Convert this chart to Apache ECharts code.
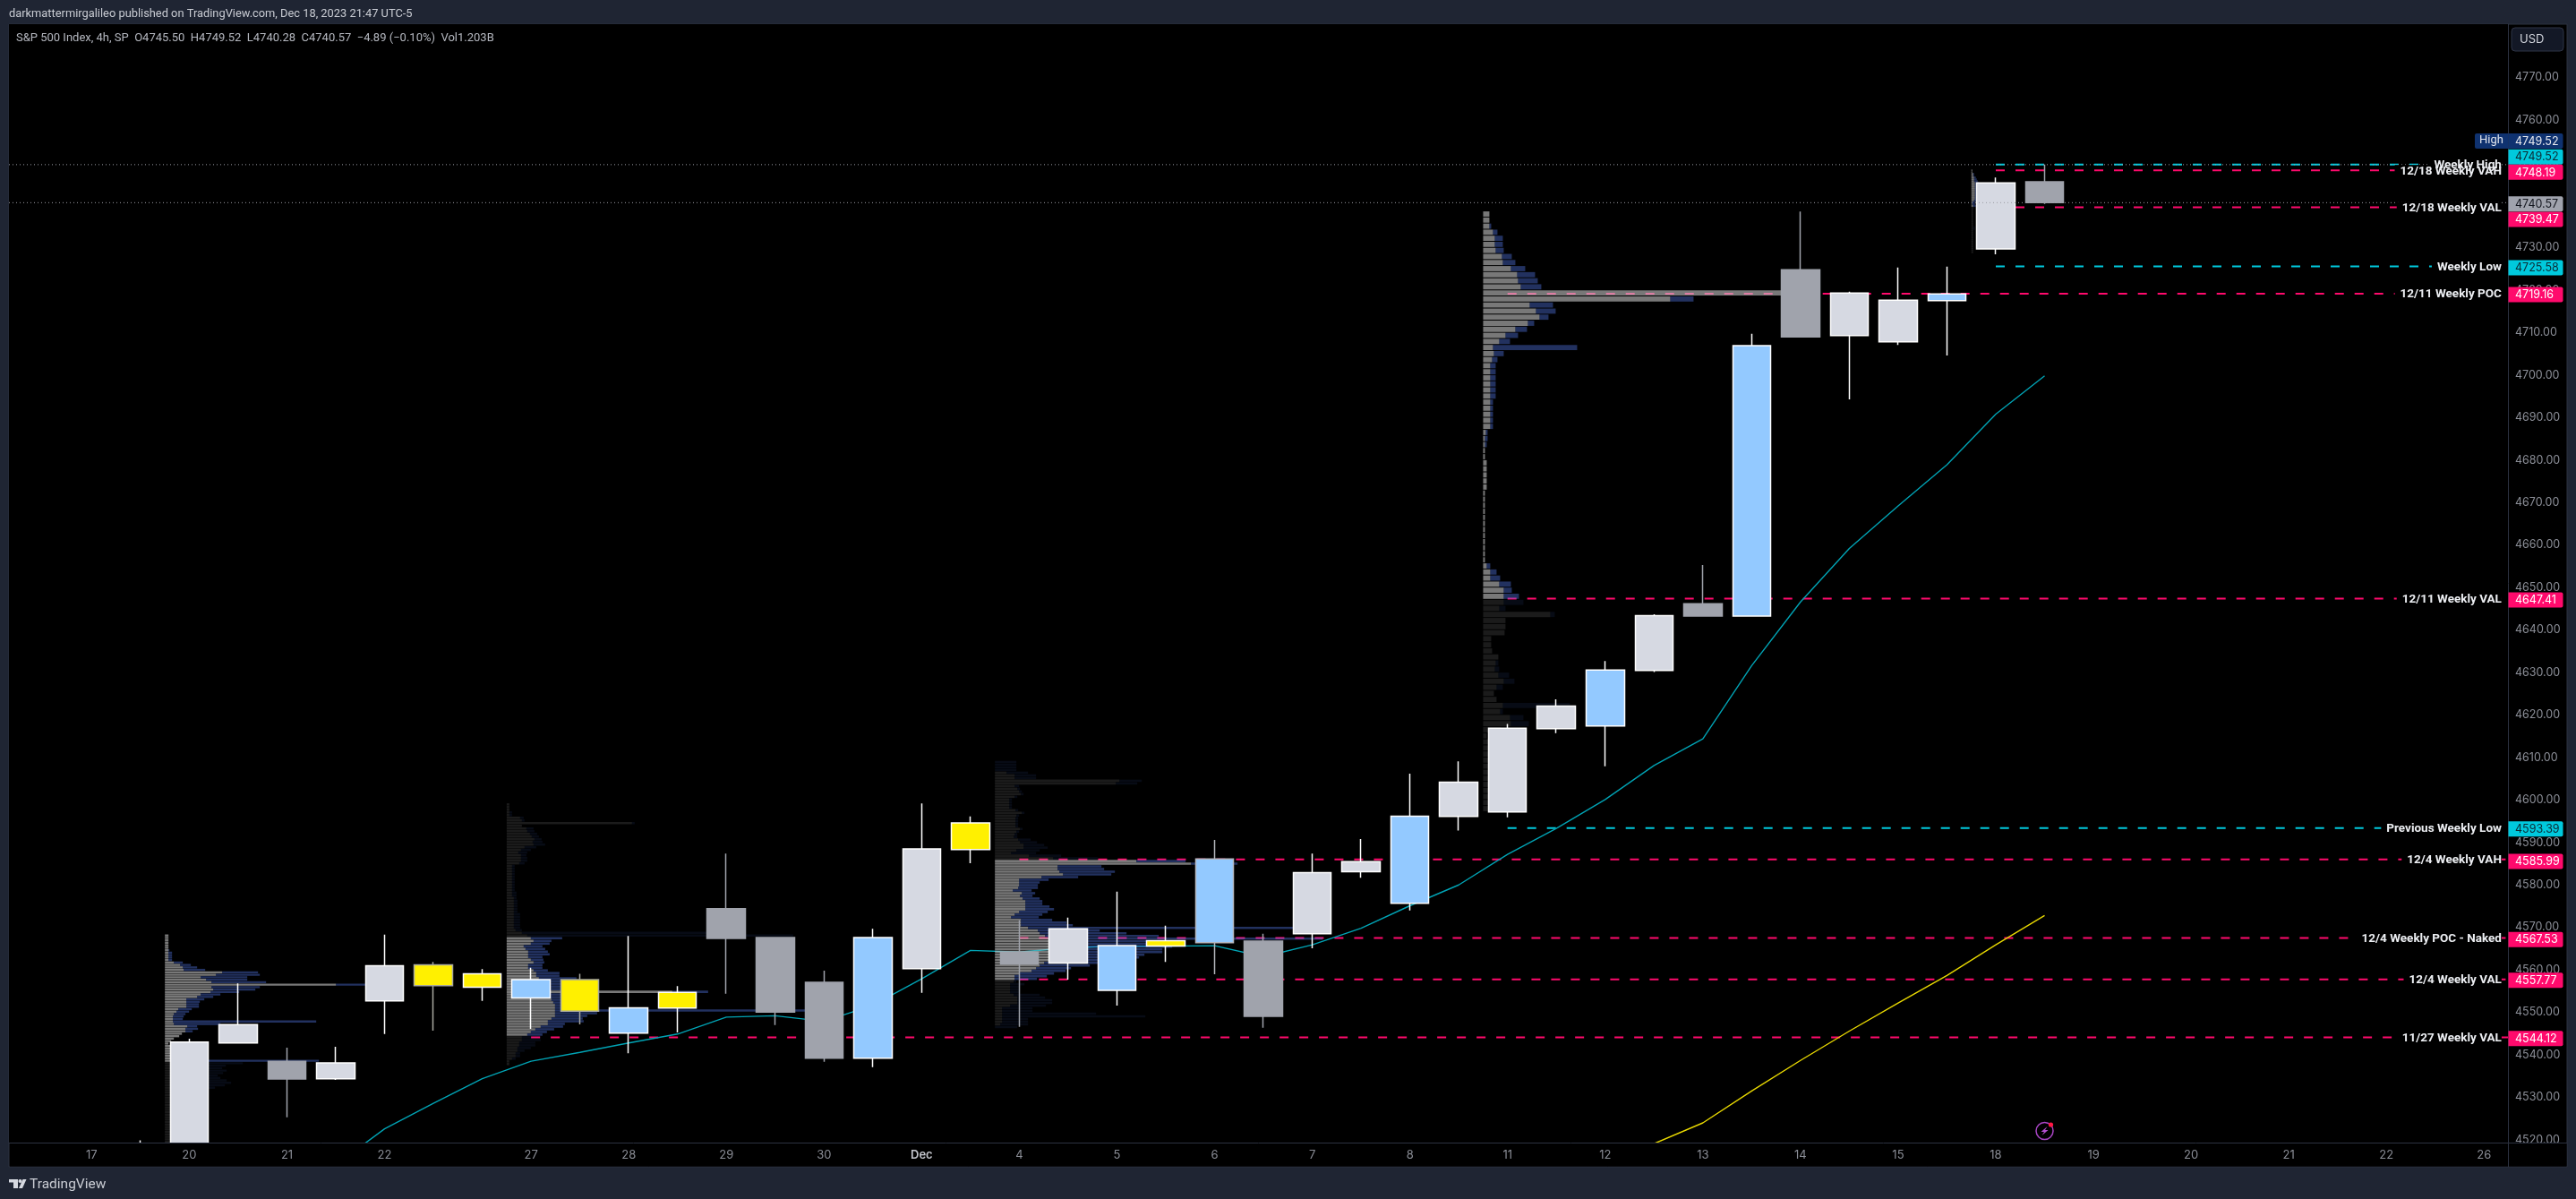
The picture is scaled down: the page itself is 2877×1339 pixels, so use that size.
<!DOCTYPE html>
<html>
<head>
<meta charset="utf-8">
<title>S&amp;P 500 Index, 4h</title>
<script src="https://cdn.jsdelivr.net/npm/echarts@6/dist/echarts.min.js"></script>
<style>
  html, body { margin: 0; padding: 0; background: #1f2533; }
  #chart { width: 2877px; height: 1339px; }
</style>
</head>
<body>
<div id="chart"></div>
<script>
// one entry per 4h bar, 17 Nov to 18 Dec
const opens = [4516,4516,4515,4542.8,4538.5,4534.4,4552.7,4556.3,4555.9,4553.4,4550.3,4545.1,4551,4574.4,4567.6,4557.1,4539.2,4560.3,4588.3,4564.2,4561.6,4555.2,4565.6,4566.4,4566.8,4568.5,4583.1,4575.7,4596.1,4597.2,4616.8,4617.4,4630.5,4646.2,4643.3,4724.8,4709.3,4707.8,4717.5,4729.7,4745.5];
const closes = [4512,4517,4543,4547.1,4534.3,4538.1,4561,4561.2,4559.1,4557.7,4557.7,4551.1,4554.7,4567.4,4550.1,4539.2,4567.6,4588.5,4594.6,4561.4,4569.7,4565.7,4566.9,4586.1,4549.1,4582.9,4585.5,4596.2,4604.2,4616.9,4622.1,4630.6,4643.4,4643.3,4706.9,4709,4719.3,4717.6,4719.1,4745.2,4740.57];
const lows = [4510,4515,4514,4542.8,4525.3,4534.1,4544.9,4545.7,4552.7,4546.1,4547.2,4540.4,4545.3,4554.4,4547,4538.4,4537.1,4554.6,4585.1,4546.6,4557.7,4551.6,4561.9,4559,4546.4,4565.1,4581.7,4574,4592.8,4595.9,4615.7,4607.9,4630.1,4643.1,4643.1,4709,4694.3,4707.1,4704.6,4728.4,4740.28];
const highs = [4518,4519.9,4543.8,4556.8,4541.7,4541.9,4568.3,4561.9,4560.2,4560.5,4559.1,4568,4556.2,4587.4,4567.8,4559.8,4569.7,4599.2,4596.1,4571.7,4572.3,4578.4,4570.4,4590.6,4568.5,4587.4,4590.8,4606.2,4609.1,4617.9,4623.7,4632.7,4643.7,4655.3,4709.7,4738.5,4719.6,4725.3,4725.5,4746.5,4749.52];
const barKinds = ['grey','white','white','white','grey','white','white','yellowG','yellow','blue','yellowG','blue','yellow','grey','grey','grey','blue','white','yellow','grey','white','blue','yellow','blueG','grey','white','white','blue','white','white','white','blue','white','grey','blue','grey','white','white','blue','white','grey'];

// moving averages, first value belongs to the bar in *Start
const emaStart = 5;
const emaValues = [4514.1,4522.6,4528.6,4534.4,4538.5,4540.6,4542.8,4544.9,4548.9,4549.2,4547.9,4551.7,4557.9,4564.6,4564.2,4565.2,4565.6,4565.6,4565.7,4563.1,4565.9,4569.8,4575.1,4580,4587.2,4593.3,4600.1,4608.1,4614.4,4631.6,4646.6,4659.2,4669.2,4678.9,4690.8,4699.8];
const smaStart = 32;
const smaValues = [4519.1,4524,4531.5,4538.7,4545.6,4552.2,4558.7,4565.9,4572.8];

// axis labels
const priceTicks = [4520,4530,4540,4550,4560,4570,4580,4590,4600,4610,4620,4630,4640,4650,4660,4670,4680,4690,4700,4710,4720,4730,4740,4750,4760,4770];
const dayLabels = ['17','20','21','22','27','28','29','30','Dec','4','5','6','7','8','11','12','13','14','15','18','19','20','21','22','26'];
const dayBars = [0,2,4,6,9,11,13,15,17,19,21,23,25,27,29,31,33,35,37,39,41,43,45,47,49];

// horizontal levels
const levelNames = ['Weekly High','12/18 Weekly VAH','12/18 Weekly VAL','Weekly Low','12/11 Weekly POC','12/11 Weekly VAL','Previous Weekly Low','12/4 Weekly VAH','12/4 Weekly POC - Naked','12/4 Weekly VAL','11/27 Weekly VAL'];
const levelPrices = [4749.52,4748.19,4739.47,4725.58,4719.16,4647.41,4593.39,4585.99,4567.53,4557.77,4544.12];
const levelBars = [39,39,39,39,29,29,29,19,19,19,9];
const levelKinds = ['cyan','pink','pink','cyan','pink','pink','cyan','pink','pink','pink','pink'];
// where the price tag sits on the axis, the close ones get pushed apart
const levelTagPrices = [4751.5,4747.9,4736.8,4725.4,4719.1,4647.2,4593.3,4585.7,4567.3,4557.7,4544];
const highPrice = 4749.52;
const highTagPrice = 4755.2;
const lastPrice = 4740.57;
const lastTagPrice = 4740.4;

// session volume profiles, one pair of lists each (up / down volume per row, top row first)
const profile1Up = [4,4,4,4,4,4,4,4,4,4,4,10,17,20,21,64,57,40,46,52,191,52,54,51,40,36,24,24,24,24,15,13,10,9,9,9,10,25,23,23,19,16,10,7,4,7,7,7,7,7,7,20,20,20,20,20,20,20,20,20,20,20,20,7,7,7,7,7,7,7,7,7,7,7,7,7,7,7,7,7,7,7,7,7,7];
const profile1Down = [0,0,0,0,0,0,1,4,4,4,4,10,12,16,24,40,49,52,46,61,40,54,47,32,22,18,20,15,14,14,15,14,13,12,11,160,52,11,14,8,0,0,0,0,0,0,0,0,0,0,0,152,67,48,44,49,45,39,42,49,54,47,36,0,0,0,0,0,0,0,0,0,0,0,0,0,0,0,0,0,0,0,0,0,0];
const profile2Up = [3,3,3,3,3,15,17,140,17,22,23,26,28,31,29,30,20,16,13,16,16,16,14,6,6,6,6,6,6,6,6,6,6,6,6,8,8,8,8,8,8,8,8,8,8,8,8,10,17,23,27,30,27,19,21,24,24,24,27,30,24,24,30,33,33,36,40,42,44,45,185,45,48,50,52,54,54,54,54,54,50,46,46,38,32,27,23,17,17,14,14,12,12,10,10,6,3,3];
const profile2Down = [0,0,0,3,3,4,3,3,0,8,8,8,8,8,11,13,13,11,10,6,7,7,6,3,3,3,3,3,3,3,3,3,3,5,5,3,4,4,4,4,4,7,7,7,7,7,7,7,207,297,35,20,21,21,22,22,24,16,14,12,16,16,16,26,26,42,30,25,30,28,40,25,30,28,30,28,30,300,47,36,35,40,19,25,21,18,17,21,21,18,18,15,8,5,5,4,0,0];
const profile3Up = [0,0,0,0,13,22,22,139,135,22,25,27,29,22,16,16,16,16,23,30,24,23,23,23,23,28,24,22,21,26,28,32,32,24,18,38,65,158,219,70,70,72,76,52,27,27,27,26,20,30,28,31,34,34,34,34,27,22,18,29,29,29,37,48,50,56,61,61,61,60,60,60,60,60,60,55,50,46,41,27,22,22,21,17,17,17,17,21,25,25,25,17,8,8,8,8,8,8,6,0];
const profile3Down = [24,24,24,24,24,24,24,25,24,5,3,3,3,3,3,3,3,3,3,3,3,3,3,3,3,3,3,3,4,14,19,23,27,26,28,36,50,55,52,49,52,62,54,41,33,23,21,22,21,15,14,19,19,19,27,32,32,31,31,35,51,58,296,69,97,127,305,136,135,138,127,127,107,101,85,70,56,39,38,39,36,25,3,16,10,10,10,29,31,39,39,40,34,34,105,160,29,29,31,25];
const profile4Up = [7,7,7,11,13,13,14,21,22,31,38,39,42,345,209,52,59,63,50,36,25,18,11,12,10,8,8,8,8,8,8,8,8,8,8,8,3,2,2,2,2,4,4,4,4,4,2,2,2,2,2,2,2,2,2,2,2,2,4,8,8,18,23,23,23,18,75,25,25,24,9,9,10,17,14,13,17,23,15,12,15,22,19,30,31,20,4,6,6,6,6,6,6,6,6,6,6,6,6];
const profile4Down = [0,0,2,5,9,9,9,11,14,16,20,22,23,15,26,26,22,10,7,13,14,12,94,11,6,6,6,6,6,6,6,3,3,3,3,3,2,3,2,0,0,0,0,0,0,0,0,0,0,0,0,0,0,0,0,0,0,0,4,7,11,13,9,17,22,7,5,0,0,0,0,0,0,0,3,5,12,12,7,0,0,75,3,15,20,0,0,0,0,0,0,0,0,0,0,0,0,0,0];
const profile5Up = [1,1,2,2,3,3,3,4,4,4,4,4,4,4,4,4,4,3,1,1,2,2,2,2,2,2,2,2,2,2,2,2,2,2,2,2,2,2,2,2,2,2,2,2,2,2,2];
const profile5Down = [0,0,1,1,2,3,4,4,4,4,5,5,5,4,3,3,3,3,3,3,3,1,0,0,0,0,0,0,0,0,0,0,2,2,0,0,0,0,0,0,0,0,0,0,0,0,0];

const chartTitle = 'S&P 500 Index, 4h, SP  O4745.50  H4749.52  L4740.28  C4740.57  \u22124.89 (\u22120.10%)  Vol1.203B';
const publishedLine = 'darkmattermirgalileo published on TradingView.com, Dec 18, 2023 21:47 UTC-5';

const FONT = 'Roboto, Inter, sans-serif';
const PRICE_FONT = 'Inter, Roboto, sans-serif';
const PLOT_BLACK = '#000000';
const BORDER = '#2c3241';
const BAR_PX = 54.53;
const X_MIN = -1.694, X_MAX = 49.49;
const Y_MIN = 4519.36, Y_MAX = 4782.58;

const kindStyle = {
  white: { body: '#d6d9e2', edge: '#ffffff' },
  grey: { body: '#a0a3ac', edge: '#a0a3ac' },
  blue: { body: '#93c9ff', edge: '#ffffff' },
  blueG: { body: '#93c9ff', edge: '#b4b6bd' },
  yellow: { body: '#fff000', edge: '#ffffff' },
  yellowG: { body: '#fff000', edge: '#a8a8a0' }
};
const levelColors = { cyan: '#00c9dd', pink: '#ff0a6c' };

const candleData = opens.map((o, i) => {
  const s = kindStyle[barKinds[i]];
  return {
    value: [i, o, closes[i], lows[i], highs[i]],
    itemStyle: { color: s.body, color0: s.body, borderColor: s.edge, borderColor0: s.edge, borderColorDoji: s.edge }
  };
});

function profileSeries(upList, downList, startBar, topPrice, rowStep, vah, val) {
  const rows = upList.map((up, k) => {
    const price = topPrice - k * rowStep;
    return [startBar, price, up, downList[k], price <= vah && price >= val ? 1 : 0];
  });
  const half = rowStep * 0.43;
  return {
    type: 'custom',
    silent: true,
    clip: true,
    z: 4,
    data: rows,
    encode: { x: 0, y: 1 },
    renderItem(params, api) {
      const x0 = api.value(0), price = api.value(1);
      const up = api.value(2), down = api.value(3), bright = api.value(4);
      const a = api.coord([x0, price + half]);
      const b = api.coord([x0 + up / BAR_PX, price - half]);
      const c = api.coord([x0 + (up + down) / BAR_PX, price - half]);
      const h = Math.max(b[1] - a[1], 1);
      return {
        type: 'group',
        children: [
          { type: 'rect', shape: { x: a[0], y: a[1], width: b[0] - a[0], height: h },
            style: { fill: bright ? 'rgba(200,200,200,0.6)' : 'rgba(200,200,200,0.135)' } },
          { type: 'rect', shape: { x: b[0], y: a[1], width: c[0] - b[0], height: h },
            style: { fill: bright ? 'rgba(85,122,238,0.4)' : 'rgba(85,122,238,0.085)' } }
        ]
      };
    }
  };
}

function lineOverlay(start, values, color) {
  return {
    type: 'line',
    silent: true,
    z: 3,
    symbol: 'none',
    data: values.map((v, i) => [start + i, v]),
    lineStyle: { color: color, width: 1.4 }
  };
}

const levelSeries = levelPrices.map((p, i) => ({
  type: 'line',
  silent: true,
  z: 2,
  symbol: 'none',
  data: [[levelBars[i], p], [X_MAX, p]],
  lineStyle: { color: levelColors[levelKinds[i]], width: 2, type: [10, 12] }
}));

const dottedSeries = [highPrice, lastPrice].map(p => ({
  type: 'line',
  silent: true,
  z: 6,
  symbol: 'none',
  data: [[X_MIN, p], [X_MAX, p]],
  lineStyle: { color: '#9a9ca3', width: 1, type: [1, 3] }
}));

// black plate behind the level text so the dashes stop short of it
function levelTextSeries(plate) {
  return {
    type: 'custom',
    silent: true,
    z: plate ? 7 : 8,
    data: levelPrices.map((p, i) => [i, p]),
    encode: { y: 1 },
    renderItem(params, api) {
      const pos = api.coord([49.36, api.value(1)]);
      const name = levelNames[api.value(0)];
      return {
        type: 'text',
        style: Object.assign({
          x: pos[0], y: pos[1] + 1, text: name, align: 'right', verticalAlign: 'middle',
          font: '700 13.5px ' + FONT
        }, plate
          ? { fill: PLOT_BLACK, backgroundColor: PLOT_BLACK, padding: [0, 0, 0, 6] }
          : { fill: '#eceef2' })
      };
    }
  };
}

function tag(y, text, fill, textFill) {
  const x0 = 2801.5, w = 61, h = 17;
  return {
    type: 'group',
    children: [
      { type: 'rect', shape: { x: x0, y: y - h / 2 + 0.7, width: w, height: h, r: [0, 2, 2, 0] }, style: { fill: fill } },
      { type: 'text', style: { x: 2809, y: y + 1.2, text: text, fill: textFill, font: '12.5px ' + PRICE_FONT, verticalAlign: 'middle' } }
    ]
  };
}

const tagSeries = {
  type: 'custom',
  silent: true,
  z: 9,
  data: levelTagPrices.map((p, i) => [i, p]),
  encode: { y: 1 },
  renderItem(params, api) {
    const y = api.coord([0, api.value(1)])[1];
    const i = api.value(0);
    const cyan = levelKinds[i] === 'cyan';
    return tag(y, levelPrices[i].toFixed(2), levelColors[levelKinds[i]], cyan ? '#0c2a33' : '#ffffff');
  }
};

const extraTagSeries = {
  type: 'custom',
  silent: true,
  z: 9,
  data: [[0, highTagPrice], [1, lastTagPrice]],
  encode: { y: 1 },
  renderItem(params, api) {
    const y = api.coord([0, api.value(1)])[1];
    if (api.value(0) === 1) return tag(y, lastPrice.toFixed(2), '#a0a3ad', '#14171f');
    const g = tag(y, highPrice.toFixed(2), '#0f3270', '#e6e8ee');
    g.children.push(
      { type: 'rect', shape: { x: 2764, y: y - 7.8, width: 37.5, height: 17, r: [2, 0, 0, 2] }, style: { fill: '#0f3270' } },
      { type: 'text', style: { x: 2769, y: y + 0.2, text: 'High', fill: '#dfe3ec', font: '13px ' + FONT, verticalAlign: 'middle' } }
    );
    return g;
  }
};

// little purple lightning badge under the last bar
const iconSeries = {
  type: 'custom',
  silent: true,
  z: 9,
  data: [[40, 4522.1]],
  renderItem(params, api) {
    const p = api.coord([api.value(0), api.value(1)]);
    const cx = p[0], cy = p[1];
    return {
      type: 'group',
      children: [
        { type: 'circle', shape: { cx: cx, cy: cy, r: 9.5 }, style: { fill: 'none', stroke: '#a845c4', lineWidth: 1.5 } },
        { type: 'polygon', shape: { points: [[cx + 3, cy - 5], [cx - 4, cy + 1], [cx - 0.5, cy + 1], [cx - 3, cy + 5], [cx + 4, cy - 1], [cx + 0.5, cy - 1]] }, style: { fill: '#b44fd0' } },
        { type: 'circle', shape: { cx: cx + 7, cy: cy - 7, r: 2.6 }, style: { fill: '#ff1744' } }
      ]
    };
  }
};

const chart = echarts.init(document.getElementById('chart'), null, { renderer: 'canvas' });

chart.setOption({
  animation: false,
  backgroundColor: '#1f2533',
  textStyle: { fontFamily: FONT },
  grid: { left: 10, right: 76, top: 27, bottom: 63, show: true, backgroundColor: PLOT_BLACK, borderWidth: 0 },
  xAxis: {
    type: 'value',
    min: X_MIN,
    max: X_MAX,
    z: 10,
    splitLine: { show: false },
    axisTick: { show: false },
    axisLine: { show: true, onZero: false, lineStyle: { color: BORDER, width: 1 } },
    axisLabel: {
      customValues: dayBars,
      color: '#8b8e97',
      fontSize: 13,
      fontFamily: PRICE_FONT,
      margin: 8,
      formatter: v => {
        const label = dayLabels[dayBars.indexOf(v)];
        return label === 'Dec' ? '{month|Dec}' : label;
      },
      rich: { month: { color: '#c4c6cd', fontSize: 13, fontWeight: 600, fontFamily: PRICE_FONT } }
    }
  },
  yAxis: {
    type: 'value',
    position: 'right',
    min: Y_MIN,
    max: Y_MAX,
    splitLine: { show: false },
    axisTick: { show: false },
    axisLine: { show: true, onZero: false, lineStyle: { color: BORDER, width: 1 } },
    axisLabel: {
      customValues: priceTicks,
      color: '#8b8e97',
      fontSize: 12.5,
      fontFamily: PRICE_FONT,
      margin: 8,
      padding: [2, 0, 0, 0],
      formatter: v => v.toFixed(2)
    }
  },
  graphic: [
    { type: 'rect', z: -1, shape: { x: 10, y: 27, width: 2857, height: 1276 }, style: { fill: PLOT_BLACK, stroke: BORDER, lineWidth: 1 } },
    // time scale strip, candles that run below the price range end behind it
    { type: 'rect', z: 8, shape: { x: 11, y: 1276.5, width: 2790, height: 26 }, style: { fill: PLOT_BLACK } },
    { type: 'rect', z: 100, shape: { x: 2802, y: 1276.5, width: 64.5, height: 26 }, style: { fill: PLOT_BLACK } },
    { type: 'line', z: 100, shape: { x1: 2801.5, y1: 1276, x2: 2801.5, y2: 1303 }, style: { stroke: BORDER, lineWidth: 1 } },
    { type: 'line', z: 100, shape: { x1: 2801, y1: 1276.5, x2: 2867, y2: 1276.5 }, style: { stroke: BORDER, lineWidth: 1 } },
    { type: 'text', z: 100, style: { x: 10, y: 16, text: publishedLine, fill: '#c9ccd3', font: '12.85px ' + FONT, verticalAlign: 'middle' } },
    { type: 'text', z: 100, style: { x: 18, y: 43, text: chartTitle, fill: '#b4b7bf', font: '13px ' + FONT, verticalAlign: 'middle' } },
    { type: 'rect', z: 100, shape: { x: 2805, y: 31, width: 58, height: 26, r: 4 }, style: { fill: '#131826', stroke: '#2f3546', lineWidth: 1 } },
    { type: 'text', z: 101, style: { x: 2814, y: 44, text: 'USD', fill: '#d1d4dc', font: '13px ' + PRICE_FONT, verticalAlign: 'middle' } },
    // TradingView mark
    { type: 'polygon', z: 100, shape: { points: [[10, 1317], [20, 1317], [20, 1327], [15, 1327], [15, 1320.5], [10, 1320.5]] }, style: { fill: '#d6d9e0' } },
    { type: 'circle', z: 100, shape: { cx: 22.5, cy: 1319, r: 2 }, style: { fill: '#d6d9e0' } },
    { type: 'polygon', z: 100, shape: { points: [[25.5, 1317], [29.5, 1317], [25, 1327], [21, 1327]] }, style: { fill: '#d6d9e0' } },
    { type: 'text', z: 100, style: { x: 33, y: 1323, text: 'TradingView', fill: '#c9ccd3', font: '15.5px ' + FONT, verticalAlign: 'middle' } }
  ],
  series: [
    ...levelSeries,
    lineOverlay(emaStart, emaValues, '#00a3b4'),
    lineOverlay(smaStart, smaValues, '#e8d800'),
    profileSeries(profile1Up, profile1Down, 1.5, 4568.1, 0.578, 4569, 4538.3),
    profileSeries(profile2Up, profile2Down, 8.5, 4598.95, 0.63, 4567.8, 4544.2),
    profileSeries(profile3Up, profile3Down, 18.5, 4608.93, 0.63, 4585.99, 4557.77),
    profileSeries(profile4Up, profile4Down, 28.5, 4737.9, 1.428, 4740, 4647.41),
    profileSeries(profile5Up, profile5Down, 38.5, 4748.2, 0.42, 4749, 4739.47),
    {
      type: 'candlestick',
      silent: true,
      z: 5,
      barWidth: 43,
      data: candleData,
      itemStyle: { borderWidth: 1.5 }
    },
    ...dottedSeries,
    levelTextSeries(true),
    levelTextSeries(false),
    tagSeries,
    extraTagSeries,
    iconSeries
  ]
});
</script>
</body>
</html>
